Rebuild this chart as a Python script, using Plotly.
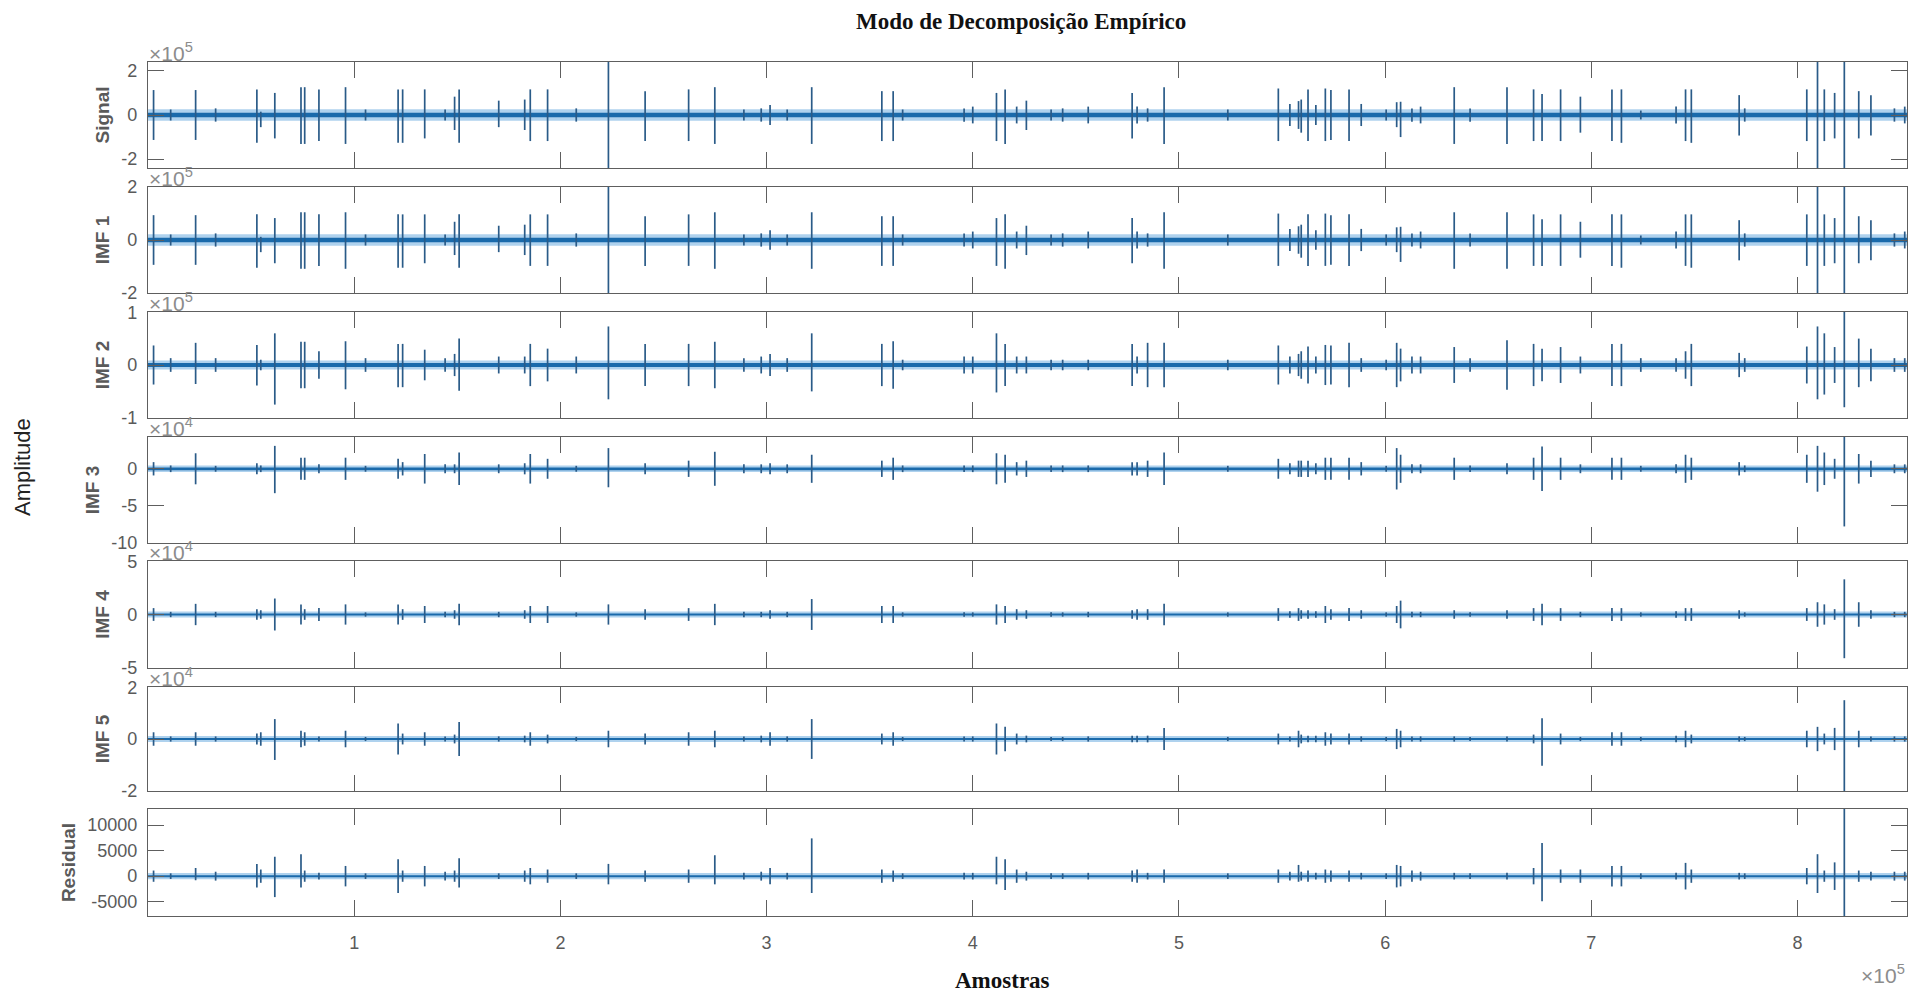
import plotly.graph_objects as go

# ---------------------------------------------------------------------------
# Empirical mode decomposition of a long vibration record (850k samples).
# Each component is drawn as its burst events (peak up / peak down) on top of
# the steady background band of the component.
# ---------------------------------------------------------------------------

# Burst positions, in units of 1e5 samples
event_pos = [
    0.027, 0.110, 0.231, 0.328, 0.528, 0.547, 0.615, 0.742, 0.760, 0.829,
    0.958, 1.055, 1.213, 1.235, 1.342, 1.441, 1.487, 1.509, 1.701, 1.827,
    1.854, 1.938, 2.077, 2.233, 2.411, 2.622, 2.749, 2.890, 2.974, 3.017,
    3.100, 3.219, 3.559, 3.614, 3.660, 3.958, 4.000, 4.115, 4.157, 4.213,
    4.260, 4.380, 4.436, 4.560, 4.773, 4.797, 4.848, 4.928, 5.237, 5.482,
    5.538, 5.580, 5.593, 5.626, 5.664, 5.710, 5.737, 5.825, 5.884, 6.005,
    6.056, 6.075, 6.130, 6.172, 6.335, 6.412, 6.591, 6.720, 6.761, 6.851,
    6.947, 7.100, 7.146, 7.240, 7.411, 7.457, 7.485, 7.717, 7.744, 8.045,
    8.097, 8.130, 8.180, 8.227, 8.297, 8.356, 8.470, 8.520,
]
n_samples = 8.531  # record length, 1e5 samples

# Signal (x1e5)
signal_up = [
    1.13, 0.25, 1.13, 0.30, 1.16, 0.15, 1.00, 1.26, 1.26, 1.16,
    1.26, 0.25, 1.16, 1.16, 1.16, 0.25, 0.83, 1.16, 0.65, 0.70,
    1.16, 1.16, 0.30, 2.60, 1.08, 1.16, 1.26, 0.25, 0.30, 0.45,
    0.25, 1.26, 1.08, 1.08, 0.25, 0.30, 0.38, 1.00, 1.16, 0.38,
    0.65, 0.25, 0.30, 0.38, 1.00, 0.38, 0.30, 1.26, 0.25, 1.20,
    0.50, 0.63, 0.70, 1.16, 0.45, 1.20, 1.13, 1.16, 0.50, 0.25,
    0.58, 0.60, 0.30, 0.38, 1.26, 0.30, 1.26, 1.16, 0.95, 1.16,
    0.83, 1.16, 1.16, 0.20, 0.38, 1.16, 1.16, 0.90, 0.30, 1.16,
    2.60, 1.16, 1.00, 2.60, 1.08, 0.90, 0.30, 0.38,
]
signal_down = [
    1.13, 0.25, 1.13, 0.30, 1.26, 0.55, 1.06, 1.31, 1.31, 1.18,
    1.31, 0.25, 1.26, 1.26, 1.06, 0.25, 0.68, 1.26, 0.55, 0.68,
    1.18, 1.18, 0.30, 2.60, 1.18, 1.18, 1.31, 0.25, 0.30, 0.45,
    0.25, 1.31, 1.18, 1.18, 0.25, 0.30, 0.38, 1.18, 1.31, 0.38,
    0.68, 0.25, 0.30, 0.38, 1.06, 0.38, 0.30, 1.31, 0.25, 1.18,
    0.50, 0.63, 0.80, 1.18, 0.45, 1.18, 1.13, 1.18, 0.50, 0.25,
    0.55, 1.00, 0.30, 0.38, 1.31, 0.30, 1.31, 1.18, 1.18, 1.18,
    0.80, 1.18, 1.26, 0.20, 0.38, 1.18, 1.26, 0.93, 0.30, 1.18,
    2.60, 1.18, 1.06, 2.60, 1.06, 0.93, 0.30, 0.38,
]

# IMF 1 (x1e5)
imf1_up = [
    0.94, 0.21, 0.94, 0.25, 0.97, 0.12, 0.83, 1.05, 1.05, 0.97,
    1.05, 0.21, 0.97, 0.97, 0.97, 0.21, 0.69, 0.97, 0.54, 0.58,
    0.97, 0.97, 0.25, 2.20, 0.90, 0.97, 1.05, 0.21, 0.25, 0.37,
    0.21, 1.05, 0.90, 0.90, 0.21, 0.25, 0.32, 0.83, 0.97, 0.32,
    0.54, 0.21, 0.25, 0.32, 0.83, 0.32, 0.25, 1.05, 0.21, 1.00,
    0.42, 0.52, 0.58, 0.97, 0.37, 1.00, 0.94, 0.97, 0.42, 0.21,
    0.48, 0.50, 0.25, 0.32, 1.05, 0.25, 1.05, 0.97, 0.79, 0.97,
    0.69, 0.97, 0.97, 0.17, 0.32, 0.97, 0.97, 0.75, 0.25, 0.97,
    2.20, 0.97, 0.83, 2.20, 0.90, 0.75, 0.25, 0.32,
]
imf1_down = [
    0.94, 0.21, 0.94, 0.25, 1.05, 0.46, 0.88, 1.09, 1.09, 0.98,
    1.09, 0.21, 1.05, 1.05, 0.88, 0.21, 0.57, 1.05, 0.46, 0.57,
    0.98, 0.98, 0.25, 2.20, 0.98, 0.98, 1.09, 0.21, 0.25, 0.37,
    0.21, 1.09, 0.98, 0.98, 0.21, 0.25, 0.32, 0.98, 1.09, 0.32,
    0.57, 0.21, 0.25, 0.32, 0.88, 0.32, 0.25, 1.09, 0.21, 0.98,
    0.42, 0.52, 0.67, 0.98, 0.37, 0.98, 0.94, 0.98, 0.42, 0.21,
    0.46, 0.83, 0.25, 0.32, 1.09, 0.25, 1.09, 0.98, 0.98, 0.98,
    0.67, 0.98, 1.05, 0.17, 0.32, 0.98, 1.05, 0.77, 0.25, 0.98,
    2.20, 0.98, 0.88, 2.20, 0.88, 0.77, 0.25, 0.32,
]

# IMF 2 (x1e5)
imf2_up = [
    0.37, 0.13, 0.42, 0.13, 0.38, 0.10, 0.60, 0.44, 0.44, 0.26,
    0.45, 0.13, 0.40, 0.40, 0.29, 0.13, 0.21, 0.50, 0.16, 0.16,
    0.40, 0.31, 0.16, 0.73, 0.40, 0.40, 0.44, 0.13, 0.16, 0.21,
    0.13, 0.60, 0.40, 0.45, 0.10, 0.16, 0.16, 0.60, 0.40, 0.16,
    0.16, 0.10, 0.10, 0.10, 0.40, 0.16, 0.42, 0.42, 0.10, 0.37,
    0.16, 0.21, 0.26, 0.35, 0.16, 0.38, 0.37, 0.42, 0.13, 0.10,
    0.42, 0.31, 0.16, 0.16, 0.34, 0.13, 0.47, 0.40, 0.31, 0.34,
    0.16, 0.40, 0.40, 0.13, 0.13, 0.26, 0.40, 0.23, 0.13, 0.35,
    0.73, 0.60, 0.34, 1.05, 0.50, 0.31, 0.13, 0.13,
]
imf2_down = [
    0.37, 0.13, 0.36, 0.13, 0.39, 0.10, 0.75, 0.44, 0.44, 0.26,
    0.46, 0.13, 0.42, 0.42, 0.29, 0.13, 0.21, 0.49, 0.16, 0.16,
    0.40, 0.31, 0.16, 0.65, 0.40, 0.40, 0.44, 0.13, 0.16, 0.21,
    0.13, 0.50, 0.40, 0.45, 0.10, 0.16, 0.16, 0.52, 0.40, 0.16,
    0.16, 0.10, 0.10, 0.10, 0.40, 0.16, 0.42, 0.42, 0.10, 0.37,
    0.16, 0.21, 0.26, 0.35, 0.16, 0.38, 0.37, 0.42, 0.13, 0.10,
    0.42, 0.31, 0.16, 0.16, 0.34, 0.13, 0.47, 0.40, 0.31, 0.34,
    0.16, 0.40, 0.40, 0.13, 0.13, 0.26, 0.40, 0.23, 0.13, 0.35,
    0.65, 0.56, 0.34, 0.80, 0.42, 0.31, 0.13, 0.13,
]

# IMF 3 (x1e4)
imf3_up = [
    0.90, 0.45, 2.10, 0.40, 0.75, 0.45, 3.10, 1.50, 1.50, 0.60,
    1.50, 0.40, 1.35, 0.90, 2.00, 0.60, 0.60, 2.20, 0.60, 0.75,
    2.00, 1.35, 0.40, 2.80, 0.75, 1.10, 2.30, 0.60, 0.60, 0.75,
    0.60, 1.90, 1.10, 1.50, 0.45, 0.45, 0.45, 2.10, 1.90, 0.90,
    1.10, 0.45, 0.45, 0.45, 0.90, 0.90, 1.10, 2.20, 0.40, 1.35,
    0.75, 1.10, 1.10, 1.10, 0.75, 1.50, 1.50, 1.50, 0.90, 0.40,
    2.80, 1.90, 0.60, 0.60, 1.50, 0.45, 0.75, 1.50, 3.00, 1.50,
    0.60, 1.50, 1.50, 0.40, 0.60, 1.90, 1.50, 0.90, 0.45, 1.90,
    3.10, 2.20, 1.35, 4.50, 2.00, 1.10, 0.60, 0.60,
]
imf3_down = [
    0.90, 0.45, 2.10, 0.40, 0.75, 0.45, 3.30, 1.50, 1.50, 0.60,
    1.50, 0.40, 1.35, 0.90, 2.00, 0.60, 0.60, 2.20, 0.60, 0.75,
    2.00, 1.35, 0.40, 2.50, 0.75, 1.10, 2.30, 0.60, 0.60, 0.75,
    0.60, 1.90, 1.10, 1.50, 0.45, 0.45, 0.45, 2.10, 1.90, 0.90,
    1.10, 0.45, 0.45, 0.45, 0.90, 0.90, 1.10, 2.20, 0.40, 1.35,
    0.75, 1.10, 1.10, 1.10, 0.75, 1.50, 1.50, 1.50, 0.90, 0.40,
    2.80, 1.90, 0.60, 0.60, 1.50, 0.45, 0.75, 1.50, 3.00, 1.50,
    0.60, 1.50, 1.50, 0.40, 0.60, 1.90, 1.50, 0.90, 0.45, 1.90,
    3.10, 2.20, 1.35, 7.80, 2.00, 1.10, 0.60, 0.60,
]

# IMF 4 (x1e4)
imf4_up = [
    0.60, 0.25, 1.00, 0.25, 0.50, 0.40, 1.50, 0.95, 0.50, 0.60,
    0.95, 0.20, 0.95, 0.50, 0.80, 0.25, 0.40, 1.00, 0.25, 0.40,
    0.80, 0.80, 0.20, 0.95, 0.50, 0.60, 1.00, 0.25, 0.25, 0.40,
    0.25, 1.45, 0.80, 0.80, 0.20, 0.20, 0.20, 0.95, 0.80, 0.50,
    0.40, 0.20, 0.20, 0.25, 0.40, 0.50, 0.50, 1.00, 0.20, 0.60,
    0.30, 0.60, 0.40, 0.40, 0.30, 0.80, 0.50, 0.60, 0.40, 0.20,
    0.80, 1.30, 0.25, 0.25, 0.40, 0.20, 0.40, 0.60, 1.00, 0.60,
    0.25, 0.60, 0.60, 0.20, 0.30, 0.60, 0.60, 0.40, 0.20, 0.60,
    1.15, 0.95, 0.50, 3.30, 1.15, 0.40, 0.25, 0.25,
]
imf4_down = [
    0.60, 0.25, 1.00, 0.25, 0.50, 0.40, 1.50, 0.95, 0.50, 0.60,
    0.95, 0.20, 0.95, 0.50, 0.80, 0.25, 0.40, 1.00, 0.25, 0.40,
    0.80, 0.80, 0.20, 0.95, 0.50, 0.60, 1.00, 0.25, 0.25, 0.40,
    0.25, 1.45, 0.80, 0.80, 0.20, 0.20, 0.20, 0.95, 0.80, 0.50,
    0.40, 0.20, 0.20, 0.25, 0.40, 0.50, 0.50, 1.00, 0.20, 0.60,
    0.30, 0.60, 0.40, 0.40, 0.30, 0.80, 0.50, 0.60, 0.40, 0.20,
    0.80, 1.30, 0.25, 0.25, 0.40, 0.20, 0.40, 0.60, 1.00, 0.60,
    0.25, 0.60, 0.60, 0.20, 0.30, 0.60, 0.60, 0.40, 0.20, 0.60,
    1.15, 0.95, 0.50, 4.10, 1.15, 0.40, 0.25, 0.25,
]

# IMF 5 (x1e4)
imf5_up = [
    0.26, 0.10, 0.26, 0.10, 0.21, 0.26, 0.77, 0.32, 0.26, 0.10,
    0.32, 0.08, 0.60, 0.21, 0.26, 0.10, 0.17, 0.66, 0.10, 0.13,
    0.26, 0.17, 0.08, 0.32, 0.21, 0.26, 0.32, 0.10, 0.13, 0.26,
    0.10, 0.77, 0.21, 0.26, 0.08, 0.10, 0.10, 0.60, 0.47, 0.21,
    0.13, 0.08, 0.08, 0.10, 0.13, 0.13, 0.13, 0.43, 0.08, 0.21,
    0.10, 0.32, 0.17, 0.13, 0.13, 0.26, 0.21, 0.21, 0.10, 0.08,
    0.39, 0.32, 0.10, 0.10, 0.10, 0.08, 0.10, 0.17, 0.80, 0.21,
    0.08, 0.26, 0.26, 0.08, 0.13, 0.32, 0.17, 0.10, 0.08, 0.32,
    0.47, 0.21, 0.43, 1.50, 0.32, 0.10, 0.10, 0.10,
]
imf5_down = [
    0.26, 0.10, 0.26, 0.10, 0.21, 0.26, 0.81, 0.32, 0.26, 0.10,
    0.32, 0.08, 0.60, 0.21, 0.26, 0.10, 0.17, 0.66, 0.10, 0.13,
    0.26, 0.17, 0.08, 0.32, 0.21, 0.26, 0.32, 0.10, 0.13, 0.26,
    0.10, 0.77, 0.21, 0.26, 0.08, 0.10, 0.10, 0.60, 0.47, 0.21,
    0.13, 0.08, 0.08, 0.10, 0.13, 0.13, 0.13, 0.43, 0.08, 0.21,
    0.10, 0.32, 0.17, 0.13, 0.13, 0.26, 0.21, 0.21, 0.10, 0.08,
    0.39, 0.32, 0.10, 0.10, 0.10, 0.08, 0.10, 0.17, 1.03, 0.21,
    0.08, 0.26, 0.26, 0.08, 0.13, 0.32, 0.17, 0.10, 0.08, 0.32,
    0.47, 0.21, 0.43, 2.05, 0.32, 0.10, 0.10, 0.10,
]

# Residual (raw units)
resid_up = [
    1100, 550, 1600, 870, 2400, 1300, 3800, 4300, 1100, 650,
    2000, 550, 3300, 1100, 2000, 870, 1100, 3500, 550, 1100,
    1600, 1300, 550, 2400, 1100, 1300, 4100, 650, 870, 1600,
    650, 7400, 1300, 1100, 550, 650, 650, 3800, 3300, 1300,
    870, 550, 550, 650, 1100, 1300, 650, 1300, 550, 1300,
    870, 2200, 870, 1100, 650, 1300, 1100, 1100, 650, 550,
    2200, 2000, 1100, 870, 650, 550, 650, 1600, 6500, 1300,
    1300, 2000, 2000, 550, 650, 2600, 1300, 650, 550, 1600,
    4300, 1100, 2700, 14000, 1100, 870, 870, 870,
]
resid_down = [
    1100, 550, 800, 870, 2200, 1300, 4100, 2200, 1100, 650,
    2000, 550, 3300, 1100, 2000, 870, 1100, 2200, 550, 1100,
    1600, 1300, 550, 1600, 1100, 1300, 1600, 650, 870, 1600,
    650, 3300, 1300, 1100, 550, 650, 650, 1600, 2700, 1300,
    870, 550, 550, 650, 1100, 1300, 650, 1300, 550, 1300,
    870, 1100, 870, 1100, 650, 1300, 1100, 1100, 650, 550,
    2200, 2000, 1100, 870, 650, 550, 650, 1600, 4900, 1300,
    1300, 2000, 2000, 550, 650, 2600, 1300, 650, 550, 1600,
    3300, 1100, 2700, 8500, 1100, 870, 870, 870,
]

# Steady background band of each component: dense core and faint envelope
band_core = [1.0e4, 0.85e4, 0.36e4, 1900, 900, 370, 190]
band_halo = [2.6e4, 2.2e4, 0.85e4, 4500, 2800, 1150, 600]

# Panel labels, units, y limits and ticks
panel_names = ["Signal", "IMF 1", "IMF 2", "IMF 3", "IMF 4", "IMF 5", "Residual"]
panel_scale = [1e5, 1e5, 1e5, 1e4, 1e4, 1e4, 1]
panel_exp = [5, 5, 5, 4, 4, 4, None]
panel_ylim = [(-2.4e5, 2.4e5), (-2.006e5, 2.006e5), (-1.004e5, 1.004e5),
              (-1.004e5, 4.3e4), (-5.02e4, 5.02e4), (-2.01e4, 2.01e4),
              (-7800, 13150)]
panel_ticks = [[-2, 0, 2], [-2, 0, 2], [-1, 0, 1], [-10, -5, 0],
               [-5, 0, 5], [-2, 0, 2], [-5000, 0, 5000, 10000]]
x_ticks = [1, 2, 3, 4, 5, 6, 7, 8]

ups = [signal_up, imf1_up, imf2_up, imf3_up, imf4_up, imf5_up, resid_up]
downs = [signal_down, imf1_down, imf2_down, imf3_down, imf4_down, imf5_down, resid_down]

# ---------------------------------------------------------------------------
W, H = 1928, 996
PL, PR, PT, PB = 148, 1907, 62, 916           # plot area in pixels
tops = [62, 187, 312, 437, 561, 687, 809]
bots = [168, 293, 418, 543, 668, 791, 916]
ph = PB - PT


def ypaper(py):
    return (PB - py) / ph


def xpaper(px):
    return (px - PL) / (PR - PL)


AX = "#5e5e5e"
TXT = "#5a5a5a"
EXP = "#8c8c8c"
SANS = "Liberation Sans, Arial, Helvetica, sans-serif"
SERIF = "Liberation Serif, Times New Roman, serif"
HALO = "rgba(95,165,222,0.50)"
CORE = "#1a6aab"
SPIKE = "#2a5b88"

x_end = n_samples * 1e5
fig = go.Figure()

for i in range(7):
    xa = "x" if i == 0 else f"x{i+1}"
    ya = "y" if i == 0 else f"y{i+1}"
    s = panel_scale[i]
    # background band: envelope then core
    for half, col in ((band_halo[i], HALO), (band_core[i], CORE)):
        fig.add_trace(go.Scatter(
            x=[0, x_end, x_end, 0, 0], y=[half, half, -half, -half, half],
            mode="lines", fill="toself", fillcolor=col, line=dict(width=0),
            hoverinfo="skip", showlegend=False, xaxis=xa, yaxis=ya))
    # burst events as vertical strokes
    xs, ys = [], []
    for p, u, d in zip(event_pos, ups[i], downs[i]):
        xs += [p * 1e5, p * 1e5, None]
        ys += [-d * s, u * s, None]
    fig.add_trace(go.Scatter(
        x=xs, y=ys, mode="lines", line=dict(color=SPIKE, width=1.7),
        hoverinfo="skip", showlegend=False, xaxis=xa, yaxis=ya))

layout = dict(
    width=W, height=H,
    margin=dict(l=PL, r=W - PR, t=PT, b=H - PB, pad=0),
    paper_bgcolor="white", plot_bgcolor="white",
    font=dict(family=SANS, size=18, color=TXT),
    showlegend=False,
)

for i in range(7):
    n = "" if i == 0 else str(i + 1)
    s = panel_scale[i]
    layout[f"xaxis{n}"] = dict(
        domain=[0, 1], anchor=f"y{n}", range=[0, x_end],
        tickvals=[t * 1e5 for t in x_ticks], ticktext=[str(t) for t in x_ticks],
        showticklabels=(i == 6), ticks="inside", ticklen=16, tickwidth=1,
        tickcolor=AX, showline=True, linecolor=AX, linewidth=1.2,
        mirror="ticks", showgrid=False, zeroline=False,
        ticklabelstandoff=10, tickfont=dict(size=18, color=TXT),
        **({} if i == 0 else {"matches": "x"}))
    tv = panel_ticks[i]
    layout[f"yaxis{n}"] = dict(
        domain=[ypaper(bots[i]), ypaper(tops[i])], anchor=f"x{n}",
        range=list(panel_ylim[i]),
        tickvals=[t * s for t in tv], ticktext=[str(t) for t in tv],
        ticks="inside", ticklen=16, tickwidth=1, tickcolor=AX,
        showline=True, linecolor=AX, linewidth=1.2, mirror="ticks",
        showgrid=False, zeroline=False, ticklabelstandoff=6,
        tickfont=dict(size=18, color=TXT),
        title=dict(text=f"<b>{panel_names[i]}</b>", standoff=6,
                   font=dict(size=19, color=TXT, family=SANS)))

annotations = []
for i in range(7):
    if panel_exp[i] is None:
        continue
    annotations.append(dict(
        text=f"×10<sup>{panel_exp[i]}</sup>", x=0, y=ypaper(tops[i]),
        xref="paper", yref="paper", xanchor="left", yanchor="bottom",
        showarrow=False, font=dict(size=21, color=EXP, family=SANS),
        borderpad=0, yshift=-4))

annotations += [
    dict(text="×10<sup>5</sup>", x=1, y=ypaper(974), xref="paper", yref="paper",
         xanchor="right", yanchor="middle", showarrow=False,
         font=dict(size=21, color=EXP, family=SANS)),
    dict(text="<b>Modo de Decomposição Empírico</b>", x=xpaper(1021), y=ypaper(21),
         xref="paper", yref="paper", xanchor="center", yanchor="middle",
         showarrow=False, font=dict(size=23, color="#111111", family=SERIF)),
    dict(text="<b>Amostras</b>", x=xpaper(1002), y=ypaper(980),
         xref="paper", yref="paper", xanchor="center", yanchor="middle",
         showarrow=False, font=dict(size=23, color="#111111", family=SERIF)),
    dict(text="Amplitude", x=xpaper(22), y=ypaper(467), textangle=-90,
         xref="paper", yref="paper", xanchor="center", yanchor="middle",
         showarrow=False, font=dict(size=22, color="#222222", family=SANS)),
]
layout["annotations"] = annotations

fig.update_layout(**layout)
fig.write_html("out.html")
